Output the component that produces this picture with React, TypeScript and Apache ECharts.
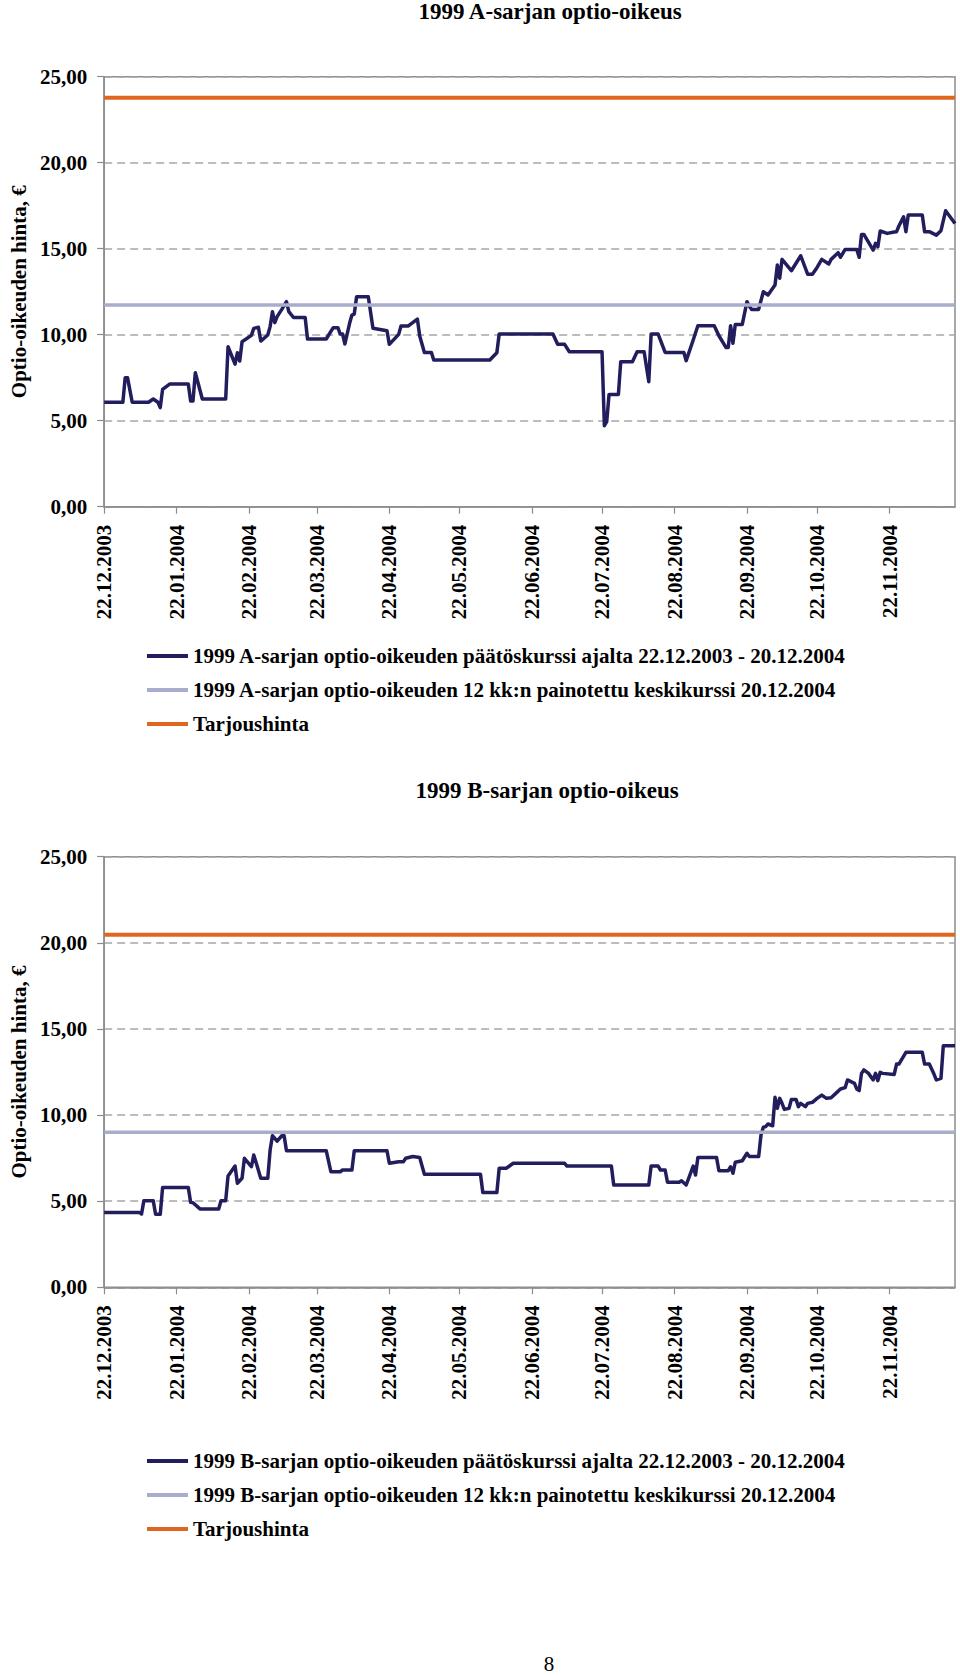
import React, { useEffect, useRef } from "react";
import * as echarts from "echarts";

// x = trading day, counted in calendar days from 22.12.2003 (day 0) to 20.12.2004 (day 364)
const END_DAY = 364;
const TICK_DAYS = [0, 31, 62, 91, 122, 152, 183, 213, 244, 275, 305, 336];
const TICK_LABELS = [
  "22.12.2003", "22.01.2004", "22.02.2004", "22.03.2004", "22.04.2004", "22.05.2004",
  "22.06.2004", "22.07.2004", "22.08.2004", "22.09.2004", "22.10.2004", "22.11.2004",
];
const Y_MAX = 25;
const Y_STEP = 5;

// 1999 A
const A_TITLE = "1999 A-sarjan optio-oikeus";
const A_NAMES = [
  "1999 A-sarjan optio-oikeuden päätöskurssi ajalta 22.12.2003 - 20.12.2004",
  "1999 A-sarjan optio-oikeuden 12 kk:n painotettu keskikurssi 20.12.2004",
  "Tarjoushinta",
];
const A_DAYS = [
  0, 8, 9, 10, 12, 19, 21, 23, 24, 25, 28, 36, 37, 38, 39, 42, 52, 53, 56, 57, 58, 59, 63, 64, 66, 67,
  70, 71, 72, 73, 74, 76, 78, 79, 81, 86, 87, 95, 98, 100, 101, 102, 103, 105, 106, 107, 108, 113, 115,
  121, 122, 126, 127, 130, 134, 135, 137, 140, 141, 165, 168, 169, 192, 194, 197, 199, 213, 214, 215,
  216, 220, 221, 226, 228, 231, 233, 234, 237, 240, 248, 249, 252, 254, 261, 263, 266, 267, 268, 269,
  270, 273, 275, 276, 277, 280, 282, 284, 287, 288, 289, 290, 294, 298, 301, 303, 305, 307, 310, 311,
  314, 315, 317, 322, 323, 324, 325, 329, 330, 331, 332, 335, 338, 339, 340, 342, 343, 344, 350, 351,
  353, 356, 358, 360, 364,
];
const A_PRICES = [
  6.07, 6.07, 7.5, 7.5, 6.07, 6.07, 6.26, 6.07, 5.76, 6.82, 7.13, 7.13, 6.14, 6.14, 7.79, 6.26, 6.26,
  9.3, 8.29, 8.95, 8.47, 9.59, 9.96, 10.37, 10.43, 9.63, 9.98, 10.47, 11.34, 10.7, 11.05, 11.47, 11.92,
  11.34, 11.0, 11.0, 9.75, 9.75, 10.41, 10.41, 10.04, 10.04, 9.46, 10.66, 11.14, 11.2, 12.2, 12.2,
  10.37, 10.23, 9.44, 10.02, 10.5, 10.5, 10.91, 9.92, 8.97, 8.97, 8.53, 8.53, 8.95, 10.04, 10.04, 9.44,
  9.44, 9.01, 9.01, 4.71, 4.94, 6.53, 6.53, 8.43, 8.43, 9.01, 9.01, 7.27, 10.04, 10.04, 8.97, 8.97,
  8.49, 9.69, 10.52, 10.52, 9.94, 9.26, 9.26, 10.52, 9.5, 10.6, 10.6, 11.92, 11.67, 11.47, 11.47, 12.5,
  12.31, 12.89, 14.05, 13.28, 14.38, 13.72, 14.59, 13.51, 13.51, 13.91, 14.38, 14.11, 14.38, 14.77,
  14.5, 14.96, 14.96, 14.5, 15.83, 15.83, 14.92, 15.31, 15.12, 16.03, 15.89, 15.97, 15.99, 16.32,
  16.86, 15.99, 16.96, 16.96, 15.99, 15.99, 15.79, 16.05, 17.21, 16.47,
];
const A_AVERAGE = 11.73;
const A_OFFER = 23.78;

// 1999 B
const B_TITLE = "1999 B-sarjan optio-oikeus";
const B_NAMES = [
  "1999 B-sarjan optio-oikeuden päätöskurssi ajalta 22.12.2003 - 20.12.2004",
  "1999 B-sarjan optio-oikeuden 12 kk:n painotettu keskikurssi 20.12.2004",
  "Tarjoushinta",
];
const B_DAYS = [
  0, 15, 16, 17, 21, 22, 24, 25, 36, 37, 38, 41, 49, 50, 52, 53, 56, 57, 59, 60, 63, 64, 65, 67, 70,
  71, 72, 74, 76, 77, 78, 95, 97, 101, 102, 106, 107, 121, 122, 126, 128, 129, 132, 135, 137, 161, 162,
  168, 169, 172, 175, 197, 198, 217, 218, 233, 234, 237, 238, 240, 241, 246, 247, 249, 252, 253, 254,
  262, 263, 267, 268, 269, 270, 273, 275, 276, 280, 281, 282, 283, 284, 286, 287, 288, 289, 290, 291,
  293, 294, 296, 297, 298, 300, 301, 303, 305, 307, 309, 311, 313, 315, 317, 318, 321, 322, 323, 324,
  325, 327, 329, 330, 331, 332, 333, 338, 339, 340, 343, 350, 351, 353, 355, 356, 358, 359, 364,
];
const B_PRICES = [
  4.35, 4.35, 4.26, 5.03, 5.03, 4.24, 4.24, 5.79, 5.79, 4.93, 4.91, 4.55, 4.55, 5.03, 5.03, 6.46, 7.04,
  6.04, 6.33, 7.49, 7.0, 7.68, 7.24, 6.33, 6.33, 7.97, 8.8, 8.49, 8.8, 8.8, 7.93, 7.93, 6.71, 6.71,
  6.81, 6.81, 7.93, 7.93, 7.2, 7.29, 7.29, 7.49, 7.59, 7.53, 6.56, 6.56, 5.5, 5.5, 6.91, 6.91, 7.2,
  7.2, 7.04, 7.04, 5.94, 5.94, 7.04, 7.04, 6.81, 6.81, 6.1, 6.1, 6.19, 5.94, 7.04, 6.52, 7.53, 7.53,
  6.77, 6.77, 7.0, 6.62, 7.26, 7.35, 7.78, 7.59, 7.59, 8.84, 9.29, 9.33, 9.48, 9.38, 11.03, 10.39,
  10.97, 10.68, 10.33, 10.39, 10.91, 10.91, 10.49, 10.68, 10.49, 10.68, 10.74, 10.97, 11.16, 10.97,
  11.01, 11.26, 11.51, 11.59, 12.04, 11.84, 11.51, 11.42, 12.42, 12.62, 12.42, 12.04, 12.42, 12.0,
  12.48, 12.42, 12.36, 12.96, 12.96, 13.64, 13.64, 12.96, 12.96, 12.38, 12.04, 12.13, 14.03, 14.03,
];
const B_AVERAGE = 9.0;
const B_OFFER = 20.47;

const Y_NAME = "Optio-oikeuden hinta, €";
const PAGE_NUMBER = "8";

const FONT = '"Liberation Serif", "Times New Roman", serif';
const NAVY = "#221E5E";
const LIGHT = "#A8ADCC";
const ORANGE = "#E0661F";
const GRAY = "#8C8C8C";

function pairs(days: number[], vals: number[]) {
  return days.map((d, i) => [d, vals[i]]);
}

function buildOption() {
  const grids = [
    { left: 96.7, right: 5, top: 76.7, height: 430 },
    { left: 96.7, right: 5, top: 856.7, height: 430.6 },
  ].map((g) => ({ ...g, show: true, borderColor: GRAY, borderWidth: 1.5, backgroundColor: "transparent" }));

  const xAxes = [0, 1].map((i) => ({
    type: "value",
    gridIndex: i,
    min: 0,
    max: END_DAY,
    axisLine: { show: true, lineStyle: { color: GRAY, width: 1.5 } },
    axisTick: { show: true, length: 7, customValues: TICK_DAYS, lineStyle: { color: GRAY, width: 1.2 } },
    axisLabel: {
      customValues: TICK_DAYS,
      rotate: 90,
      margin: 18,
      formatter: (v: number) => {
        const k = TICK_DAYS.indexOf(Math.round(v));
        return k >= 0 ? TICK_LABELS[k] : "";
      },
      fontFamily: FONT,
      fontWeight: "bold",
      fontSize: 21,
      color: "#000",
    },
    splitLine: { show: false },
  }));

  const yAxes = [0, 1].map((i) => ({
    type: "value",
    gridIndex: i,
    min: 0,
    max: Y_MAX,
    interval: Y_STEP,
    name: Y_NAME,
    nameLocation: "middle",
    nameRotate: 90,
    nameGap: 73,
    nameTextStyle: { fontFamily: FONT, fontWeight: "bold", fontSize: 21, color: "#000" },
    axisLine: { show: true, lineStyle: { color: GRAY, width: 1.5 } },
    axisTick: { show: true, length: 7, lineStyle: { color: GRAY, width: 1.2 } },
    axisLabel: {
      margin: 17,
      formatter: (v: number) => v.toFixed(2).replace(".", ","),
      fontFamily: FONT,
      fontWeight: "bold",
      fontSize: 21,
      color: "#000",
    },
    splitLine: { show: true, lineStyle: { color: "#A6A6A6", width: 1.5, type: [8, 5] } },
  }));

  const lineSeries = (name: string, idx: number, data: number[][], color: string, width: number) => ({
    type: "line",
    name,
    xAxisIndex: idx,
    yAxisIndex: idx,
    data,
    color,
    showSymbol: false,
    symbol: "none",
    lineStyle: { color, width, join: "round" },
    silent: true,
  });

  const series = [
    lineSeries(A_NAMES[0], 0, pairs(A_DAYS, A_PRICES), NAVY, 3.5),
    lineSeries(A_NAMES[1], 0, [[0, A_AVERAGE], [END_DAY, A_AVERAGE]], LIGHT, 3.5),
    lineSeries(A_NAMES[2], 0, [[0, A_OFFER], [END_DAY, A_OFFER]], ORANGE, 4),
    lineSeries(B_NAMES[0], 1, pairs(B_DAYS, B_PRICES), NAVY, 3.5),
    lineSeries(B_NAMES[1], 1, [[0, B_AVERAGE], [END_DAY, B_AVERAGE]], LIGHT, 3.5),
    lineSeries(B_NAMES[2], 1, [[0, B_OFFER], [END_DAY, B_OFFER]], ORANGE, 4),
  ];

  const legendBase = {
    orient: "vertical",
    left: 142,
    itemWidth: 41,
    itemHeight: 4,
    itemGap: 10,
    icon: "rect",
    selectedMode: false,
    textStyle: { fontFamily: FONT, fontWeight: "bold", fontSize: 21, lineHeight: 24, color: "#000" },
  };

  return {
    animation: false,
    backgroundColor: "#ffffff",
    grid: grids,
    xAxis: xAxes,
    yAxis: yAxes,
    legend: [
      { ...legendBase, top: 639, data: A_NAMES },
      { ...legendBase, top: 1444, data: B_NAMES },
    ],
    graphic: [
      {
        type: "text",
        x: 550,
        y: 11,
        style: { text: A_TITLE, font: `bold 23px ${FONT}`, fill: "#000", textAlign: "center", textVerticalAlign: "middle" },
      },
      {
        type: "text",
        x: 547,
        y: 790,
        style: { text: B_TITLE, font: `bold 23px ${FONT}`, fill: "#000", textAlign: "center", textVerticalAlign: "middle" },
      },
      {
        type: "text",
        x: 549,
        y: 1664,
        style: { text: PAGE_NUMBER, font: `21px ${FONT}`, fill: "#000", textAlign: "center", textVerticalAlign: "middle" },
      },
    ],
    series,
  };
}

export default function App() {
  const ref = useRef<HTMLDivElement>(null);
  useEffect(() => {
    document.body.style.margin = "0";
    if (!ref.current) return;
    const chart = echarts.init(ref.current, null, { renderer: "svg" });
    chart.setOption(buildOption() as any);
    return () => chart.dispose();
  }, []);
  return (
    <div
      ref={ref}
      style={{ position: "absolute", left: 0, top: 0, width: 960, height: 1676, background: "#fff" }}
    />
  );
}
